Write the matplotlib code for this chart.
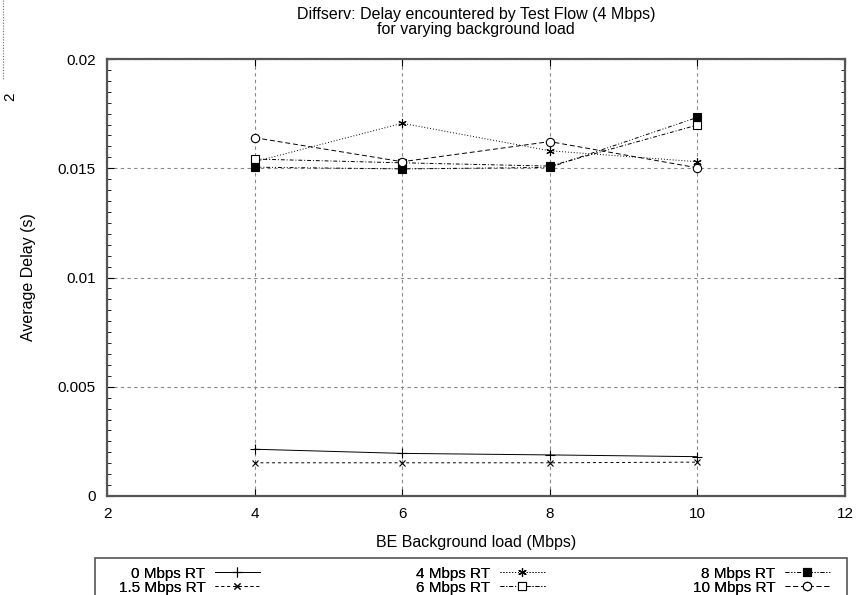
import numpy as np
import matplotlib
matplotlib.use("Agg")
import matplotlib.pyplot as plt
from matplotlib.ticker import MultipleLocator
from matplotlib.patches import Rectangle

plt.rcParams['font.family'] = ['Liberation Sans', 'DejaVu Sans']

# BE background load (Mbps)
load = [4, 6, 8, 10]

# average delay (s) per RT load
rt_0 = [0.00214, 0.00195, 0.00188, 0.00180]
rt_1_5 = [0.00152, 0.00152, 0.00152, 0.00155]
rt_4 = [0.01530, 0.01706, 0.01580, 0.01530]
rt_6 = [0.01542, 0.01525, 0.01510, 0.01698]
rt_8 = [0.01505, 0.01497, 0.01504, 0.01733]
rt_10 = [0.01640, 0.01530, 0.01622, 0.01502]

labels = ['0 Mbps RT', '1.5 Mbps RT', '4 Mbps RT', '6 Mbps RT', '8 Mbps RT', '10 Mbps RT']
xticks = [2, 4, 6, 8, 10, 12]
yticks = [0, 0.005, 0.01, 0.015, 0.02]
ytick_labels = ['0', '0.005', '0.01', '0.015', '0.02']

series = [rt_0, rt_1_5, rt_4, rt_6, rt_8, rt_10]
styles = [
    dict(ls='-', marker='+', mfc='none', ms=7),
    dict(ls=(0, (3, 3)), marker='x', mfc='none', ms=5),
    dict(ls=(0, (1, 2)), marker=(6, 2, 0), mfc='none', ms=6),
    dict(ls=(0, (4, 2, 1, 2)), marker='s', mfc='white', ms=6),
    dict(ls=(0, (4, 2, 1, 2, 1, 2)), marker='s', mfc='black', ms=6),
    dict(ls=(0, (5, 3)), marker='o', mfc='white', ms=6),
]

fig = plt.figure(figsize=(8.61, 5.95), dpi=100)
ax = fig.add_axes([0.1243, 0.1664, 0.8571, 0.7344])

for y, lab, st in zip(series, labels, styles):
    ax.plot(load, y, color='black', lw=0.7, mec='black', mew=0.8, label=lab, **st)

ax.set_xlim(2, 12)
ax.set_ylim(0, 0.02)
ax.set_xticks(xticks)
ax.set_xticklabels([str(v) for v in xticks])
ax.set_yticks(yticks)
ax.set_yticklabels(ytick_labels)
ax.yaxis.set_minor_locator(MultipleLocator(0.0005))
ax.tick_params(which='both', direction='in', top=True, right=True, labelsize=11)
ax.tick_params(which='major', length=5, pad=8)
ax.tick_params(which='minor', length=3)
ax.grid(True, which='major', ls=(0, (3, 3)), color='#888888', lw=0.8)
for s in ax.spines.values():
    s.set_color('#555555')
    s.set_linewidth(1.6)

ax.set_xlabel('BE Background load (Mbps)', fontsize=11.5, labelpad=10)
ax.set_ylabel('Average Delay (s)', fontsize=11.5, labelpad=16)
ax.set_title('Diffserv: Delay encountered by Test Flow (4 Mbps)\nfor varying background load',
             fontsize=11.5, pad=18, linespacing=1.0)

# legend: three right-aligned columns inside one box cut by the bottom edge
handles, labs = ax.get_legend_handles_labels()
col_right = [268, 553, 838]
top = 1 - 558 / 595
for i, xr in enumerate(col_right):
    lg = fig.legend(handles[2 * i:2 * i + 2], labs[2 * i:2 * i + 2], loc='upper right',
                    bbox_to_anchor=(xr / 861, 1 - 559 / 595), markerfirst=False, fontsize=11,
                    frameon=False, handlelength=3.0, labelspacing=0.0,
                    borderpad=0.0, handletextpad=0.6)
    fig.add_artist(lg)
fig.add_artist(Rectangle((95 / 861, -0.02), 752 / 861, top + 0.02, transform=fig.transFigure,
                         fill=False, edgecolor='#555555', lw=1.2))

# fragment of neighbouring figure at the top-left edge
fig.add_artist(plt.Line2D([3 / 861, 3 / 861], [1.0, 1 - 80 / 595],
                          transform=fig.transFigure, color='#666666', lw=0.8, ls=(0, (1, 1.5))))
fig.text(3 / 861, 1 - 97 / 595, '2', fontsize=11, rotation=90, va='center', ha='left')

fig.savefig('out.png', dpi=100)
